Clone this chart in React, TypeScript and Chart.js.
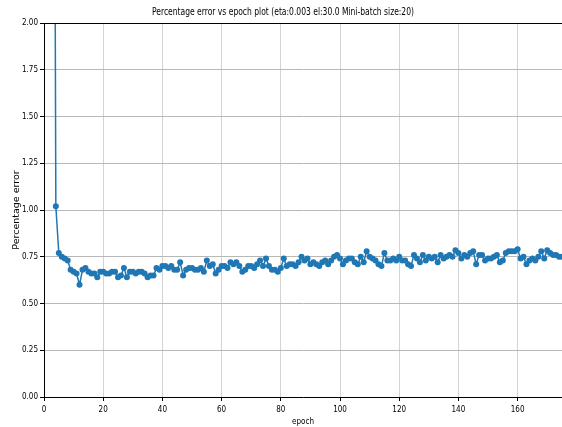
import { useEffect, useRef } from 'react';
import { Chart, registerables } from 'chart.js';

Chart.register(...registerables);

const epochs = [
  3, 4, 5, 6, 7, 8, 9, 10, 11, 12, 13, 14, 15, 16, 17, 18, 19, 20,
  21, 22, 23, 24, 25, 26, 27, 28, 29, 30, 31, 32, 33, 34, 35, 36, 37, 38, 39, 40,
  41, 42, 43, 44, 45, 46, 47, 48, 49, 50, 51, 52, 53, 54, 55, 56, 57, 58, 59, 60,
  61, 62, 63, 64, 65, 66, 67, 68, 69, 70, 71, 72, 73, 74, 75, 76, 77, 78, 79, 80,
  81, 82, 83, 84, 85, 86, 87, 88, 89, 90, 91, 92, 93, 94, 95, 96, 97, 98, 99, 100,
  101, 102, 103, 104, 105, 106, 107, 108, 109, 110, 111, 112, 113, 114, 115, 116, 117, 118, 119, 120,
  121, 122, 123, 124, 125, 126, 127, 128, 129, 130, 131, 132, 133, 134, 135, 136, 137, 138, 139, 140,
  141, 142, 143, 144, 145, 146, 147, 148, 149, 150, 151, 152, 153, 154, 155, 156, 157, 158, 159, 160,
  161, 162, 163, 164, 165, 166, 167, 168, 169, 170, 171, 172, 173, 174, 175,
];

const percentageError = [
  6.0, 1.02, 0.77, 0.75, 0.74, 0.73, 0.68, 0.67, 0.66, 0.60, 0.68, 0.69, 0.67, 0.66, 0.66, 0.64, 0.67, 0.67,
  0.66, 0.66, 0.67, 0.67, 0.64, 0.65, 0.69, 0.64, 0.67, 0.67, 0.66, 0.67, 0.67, 0.66, 0.64, 0.65, 0.65, 0.69, 0.68, 0.70,
  0.70, 0.69, 0.70, 0.68, 0.68, 0.72, 0.65, 0.68, 0.69, 0.69, 0.68, 0.68, 0.69, 0.67, 0.73, 0.70, 0.71, 0.66, 0.68, 0.70,
  0.70, 0.69, 0.72, 0.71, 0.72, 0.70, 0.67, 0.68, 0.70, 0.70, 0.69, 0.71, 0.73, 0.70, 0.74, 0.70, 0.68, 0.68, 0.67, 0.69,
  0.74, 0.70, 0.71, 0.71, 0.70, 0.72, 0.75, 0.73, 0.74, 0.71, 0.72, 0.71, 0.70, 0.72, 0.73, 0.71, 0.73, 0.75, 0.76, 0.74,
  0.71, 0.73, 0.74, 0.74, 0.72, 0.71, 0.75, 0.72, 0.78, 0.75, 0.74, 0.73, 0.71, 0.70, 0.77, 0.73, 0.73, 0.74, 0.73, 0.75,
  0.73, 0.73, 0.71, 0.70, 0.76, 0.74, 0.72, 0.76, 0.73, 0.75, 0.74, 0.75, 0.72, 0.76, 0.74, 0.75, 0.76, 0.75, 0.785, 0.77,
  0.74, 0.76, 0.75, 0.77, 0.78, 0.71, 0.76, 0.76, 0.73, 0.74, 0.74, 0.75, 0.76, 0.72, 0.73, 0.77, 0.78, 0.78, 0.78, 0.79,
  0.74, 0.75, 0.71, 0.73, 0.74, 0.73, 0.75, 0.78, 0.74, 0.785, 0.77, 0.76, 0.76, 0.75, 0.75,
];

const xTicks = [0, 20, 40, 60, 80, 100, 120, 140, 160];
const yTicks = [0, 0.25, 0.5, 0.75, 1.0, 1.25, 1.5, 1.75, 2.0];

const TITLE = 'Percentage error vs epoch plot (eta:0.003 el:30.0 Mini-batch size:20)';
const NARROW = '"DejaVu Sans Condensed", "Liberation Sans Narrow", "DejaVu Sans", sans-serif';

export default function App() {
  const ref = useRef<HTMLCanvasElement | null>(null);

  useEffect(() => {
    if (!ref.current) return;
    const frame = {
      id: 'frame',
      afterDraw(chart: any) {
        const { ctx, chartArea } = chart;
        ctx.save();
        ctx.strokeStyle = '#000';
        ctx.lineWidth = 1;
        ctx.beginPath();
        ctx.moveTo(chartArea.left, chartArea.top + 0.5);
        ctx.lineTo(chartArea.right, chartArea.top + 0.5);
        ctx.stroke();
        ctx.fillStyle = '#000';
        ctx.font = '10px ' + NARROW;
        ctx.textAlign = 'center';
        ctx.textBaseline = 'middle';
        const w = ctx.measureText(TITLE).width;
        const sx = Math.min(1, 262 / w);
        ctx.translate(283, 12);
        ctx.scale(sx, 1);
        ctx.fillText(TITLE, 0, 0);
        ctx.restore();
      },
    };
    const chart = new Chart(ref.current, {
      type: 'line',
      data: {
        datasets: [
          {
            data: epochs.map((e, i) => ({ x: e, y: percentageError[i] })),
            borderColor: '#1f77b4',
            backgroundColor: '#1f77b4',
            borderWidth: 1.5,
            pointRadius: 3,
            pointBorderWidth: 0,
            tension: 0,
          },
        ],
      },
      options: {
        responsive: false,
        animation: false,
        layout: { autoPadding: false, padding: { top: 23, left: 0, right: 0, bottom: 0 } },
        plugins: { legend: { display: false }, tooltip: { enabled: false }, title: { display: false } },
        scales: {
          x: {
            type: 'linear',
            min: 0,
            max: 175,
            afterBuildTicks: (s: any) => {
              s.ticks = xTicks.map((v) => ({ value: v }));
            },
            afterFit: (s: any) => {
              s.height = 30;
            },
            ticks: { color: '#000', font: { family: NARROW, size: 8 }, maxRotation: 0, padding: 4 },
            grid: { color: '#d4d4d4', tickColor: '#000', tickLength: 4, lineWidth: 1 },
            border: { color: '#000', width: 1 },
            title: {
              display: true,
              text: 'epoch',
              color: '#000',
              font: { family: NARROW, size: 8 },
              padding: { top: 2, bottom: 0 },
            },
          },
          y: {
            min: 0,
            max: 2,
            afterBuildTicks: (s: any) => {
              s.ticks = yTicks.map((v) => ({ value: v }));
            },
            afterFit: (s: any) => {
              s.width = 44;
            },
            ticks: {
              color: '#000',
              font: { family: NARROW, size: 8 },
              padding: 2,
              callback: (v: any) => Number(v).toFixed(2),
            },
            grid: { color: '#b8b8b8', tickColor: '#000', tickLength: 4, lineWidth: 1 },
            border: { color: '#000', width: 1 },
            title: {
              display: true,
              text: 'Percentage error',
              color: '#000',
              font: { family: '"DejaVu Sans", sans-serif', size: 9.5 },
              padding: { top: 11, bottom: 0 },
            },
          },
        },
      },
      plugins: [frame],
    });
    return () => chart.destroy();
  }, []);

  return (
    <div style={{ position: 'fixed', left: 0, top: 0, width: 562, height: 427, background: '#fff' }}>
      <canvas ref={ref} width={562} height={427} style={{ width: 562, height: 427 }} />
    </div>
  );
}
